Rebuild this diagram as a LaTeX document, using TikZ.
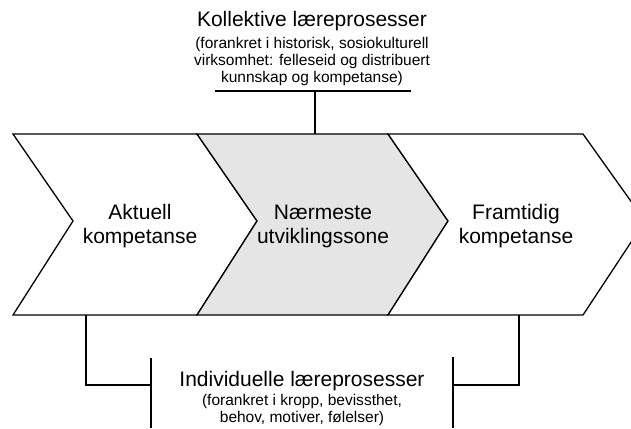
\documentclass[tikz,border=0pt]{standalone}
\usepackage{fontspec}
\setmainfont{Liberation Sans}
\begin{document}
\begin{tikzpicture}[x=1pt,y=-1pt,
  chev/.style={draw=black, line width=1.3pt, line join=miter},
  link/.style={draw=black, line width=1.8pt},
  big/.style={font=\fontsize{21}{24}\selectfont, inner sep=0pt, align=center},
  small/.style={font=\fontsize{15.5}{17}\selectfont, inner sep=0pt, align=center}]
\useasboundingbox (0,0) rectangle (631,428);
\clip (0,0) rectangle (631,428);
\fill[white] (0,0) rectangle (631,428);

% three chevrons: current, proximal, future
\filldraw[chev, fill=white]
  (13,134) -- (197,134) -- (257,221) -- (197,315) -- (13,315) -- (73,221) -- cycle;
\filldraw[chev, fill=black!10]
  (197,134) -- (388,134) -- (448,221) -- (388,315) -- (197,315) -- (257,221) -- cycle;
\filldraw[chev, fill=white]
  (388,134) -- (583,134) -- (645,221) -- (583,315) -- (388,315) -- (448,221) -- cycle;

% chevron labels (base = baseline of the last line)
\node[big, anchor=base] (akt) at (140,243) {Aktuell\\kompetanse};
\node[big, anchor=base] (nuz) at (323,243) {Nærmeste\\utviklingssone};
\node[big, anchor=base] (fra) at (516,243) {Framtidig\\kompetanse};

% collective processes (top)
\node[big, anchor=base] (kolT) at (312,27) {Kollektive læreprosesser};
\node[small, anchor=base] (kolS) at (312,82.5)
  {(forankret i historisk, sosiokulturell\\virksomhet: felleseid og distribuert\\kunnskap og kompetanse)};

% individual processes (bottom)
\node[big, anchor=base] (indT) at (302,386) {Individuelle læreprosesser};
\node[small, anchor=base] (indS) at (302,422)
  {(forankret i kropp, bevissthet,\\behov, motiver, følelser)};

% connector anchor points
\coordinate (barL) at (215,91);
\coordinate (barR) at (411,91);
\coordinate (barM) at (315,91);
\coordinate (midTop) at (315,134);
\coordinate (leftBot) at (86,315);
\coordinate (rightBot) at (519,315);
\coordinate (brL) at (151,385);
\coordinate (brLt) at (151,358);
\coordinate (brLb) at (151,428);
\coordinate (brR) at (453,385);
\coordinate (brRt) at (453,357);
\coordinate (brRb) at (453,428);

% connectors
\draw[link] (barL) -- (barR);
\draw[link] (barM) -- (midTop);
\draw[link] (leftBot) |- (brL);
\draw[link] (brLt) -- (brLb);
\draw[link] (rightBot) |- (brR);
\draw[link] (brRt) -- (brRb);
\end{tikzpicture}
\end{document}
